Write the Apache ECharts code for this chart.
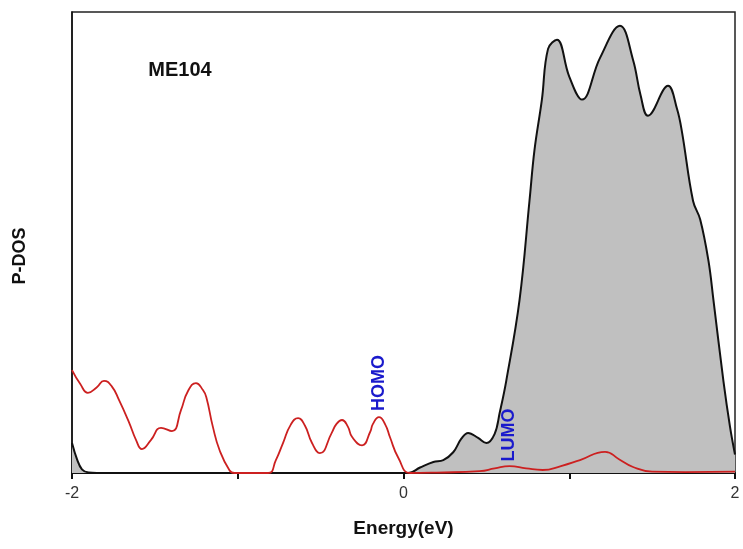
<!DOCTYPE html>
<html>
<head>
<meta charset="utf-8">
<script src="https://cdn.jsdelivr.net/npm/echarts@6/dist/echarts.min.js"></script>
<style>html,body{margin:0;padding:0;background:#fff;}#c{width:743px;height:549px;}</style>
</head>
<body>
<div id="c"></div>
<script>
// Total P-DOS (gray filled) - energies (eV) and values (arb. units)
var totalE = [-2.0, -1.97, -1.94, -1.9, -1.85, 0.03, 0.1, 0.18, 0.24, 0.3, 0.35, 0.39, 0.45, 0.5, 0.55, 0.58, 0.62, 0.7, 0.76, 0.79, 0.835, 0.872, 0.926, 1.0, 1.077, 1.185, 1.306, 1.385, 1.43, 1.475, 1.596, 1.65, 1.68, 1.747, 1.79, 1.84, 1.87, 1.93, 1.97, 2.0];
var totalV = [6.5, 3.0, 0.8, 0.1, 0.0, 0.0, 1.2, 2.4, 2.8, 4.5, 7.5, 8.7, 7.6, 6.5, 8.5, 13, 20, 37.5, 59, 70, 81, 92, 94, 86, 81, 90, 97, 89.6, 82, 77.5, 84, 79, 74, 59, 55, 46, 37.5, 20, 10, 4];
// Partial DOS (red line)
var partE = [-2.0, -1.95, -1.904, -1.85, -1.807, -1.76, -1.716, -1.656, -1.614, -1.578, -1.523, -1.463, -1.397, -1.342, -1.30, -1.252, -1.21, -1.19, -1.15, -1.11, -1.05, -1.02, -0.817, -0.77, -0.727, -0.68, -0.636, -0.595, -0.552, -0.504, -0.433, -0.405, -0.371, -0.335, -0.31, -0.25, -0.2, -0.185, -0.148, -0.11, -0.082, -0.03, 0.04, 0.2, 0.46, 0.55, 0.64, 0.74, 0.84, 0.95, 1.065, 1.216, 1.3, 1.385, 1.5, 1.7, 2.0];
var partV = [22.3, 19.3, 17.4, 18.6, 20, 18.8, 15.8, 11, 7.2, 5.2, 7.2, 9.8, 9.1, 13.7, 17.8, 19.5, 18.0, 16.5, 10, 5, 0.6, 0, 0, 2.8, 6.5, 10.5, 11.9, 10.3, 6.5, 4.3, 8.7, 10.6, 11.5, 10.0, 7.8, 6, 9, 10.6, 12.1, 10.5, 7.8, 3.2, 0, 0.1, 0.4, 1, 1.5, 1, 0.65, 1.5, 2.8, 4.6, 3, 1.3, 0.3, 0.2, 0.3];
var xTickLabels = {'-2': '-2', '0': '0', '2': '2'};

function pairs(xs, ys) { return xs.map(function (x, i) { return [x, ys[i]]; }); }

var chart = echarts.init(document.getElementById('c'));
var font = '"Liberation Sans", Arial, sans-serif';
chart.setOption({
  animation: false,
  backgroundColor: '#ffffff',
  grid: { left: 72, right: 8, top: 12, bottom: 76, show: true, borderColor: '#222', borderWidth: 1.5, backgroundColor: 'transparent' },
  xAxis: {
    type: 'value', min: -2, max: 2, interval: 1,
    name: 'Energy(eV)', nameLocation: 'middle', nameGap: 46,
    nameTextStyle: { fontFamily: font, fontWeight: 'bold', fontSize: 19, color: '#111' },
    axisLine: { show: true, onZero: false, lineStyle: { color: '#111', width: 2 } },
    axisTick: { show: true, inside: false, length: 6, lineStyle: { color: '#111', width: 2 } },
    axisLabel: { fontFamily: font, fontSize: 16, color: '#333', margin: 13,
      formatter: function (v) { return xTickLabels[String(v)] || ''; } },
    splitLine: { show: false }
  },
  yAxis: {
    type: 'value', min: 0, max: 100,
    axisLine: { show: true, onZero: false, lineStyle: { color: '#111', width: 1.5 } },
    axisTick: { show: false }, axisLabel: { show: false }, splitLine: { show: false }
  },
  series: [
    { type: 'line', data: pairs(totalE, totalV), smooth: 0.4, symbol: 'none',
      lineStyle: { color: '#111', width: 2 }, areaStyle: { color: '#c0c0c0', opacity: 1 }, z: 2 },
    { type: 'line', data: pairs(partE, partV), smooth: 0.5, symbol: 'none',
      lineStyle: { color: '#cc2020', width: 1.8 }, z: 3 }
  ],
  graphic: [
    { type: 'text', z: 100, x: 20, y: 256, rotation: Math.PI / 2, style: { text: 'P-DOS', fontFamily: font, fontWeight: 'bold', fontSize: 18, fill: '#111', textAlign: 'center', textVerticalAlign: 'middle' } },
    { type: 'text', z: 100, x: 180, y: 70, style: { text: 'ME104', fontFamily: font, fontWeight: 'bold', fontSize: 20, fill: '#111', textAlign: 'center', textVerticalAlign: 'middle' } },
    { type: 'text', z: 100, x: 379, y: 383, rotation: Math.PI / 2, style: { text: 'HOMO', fontFamily: font, fontWeight: 'bold', fontSize: 18, fill: '#1a1acc', textAlign: 'center', textVerticalAlign: 'middle' } },
    { type: 'text', z: 100, x: 509, y: 435, rotation: Math.PI / 2, style: { text: 'LUMO', fontFamily: font, fontWeight: 'bold', fontSize: 18, fill: '#1a1acc', textAlign: 'center', textVerticalAlign: 'middle' } }
  ]
});
</script>
</body>
</html>
